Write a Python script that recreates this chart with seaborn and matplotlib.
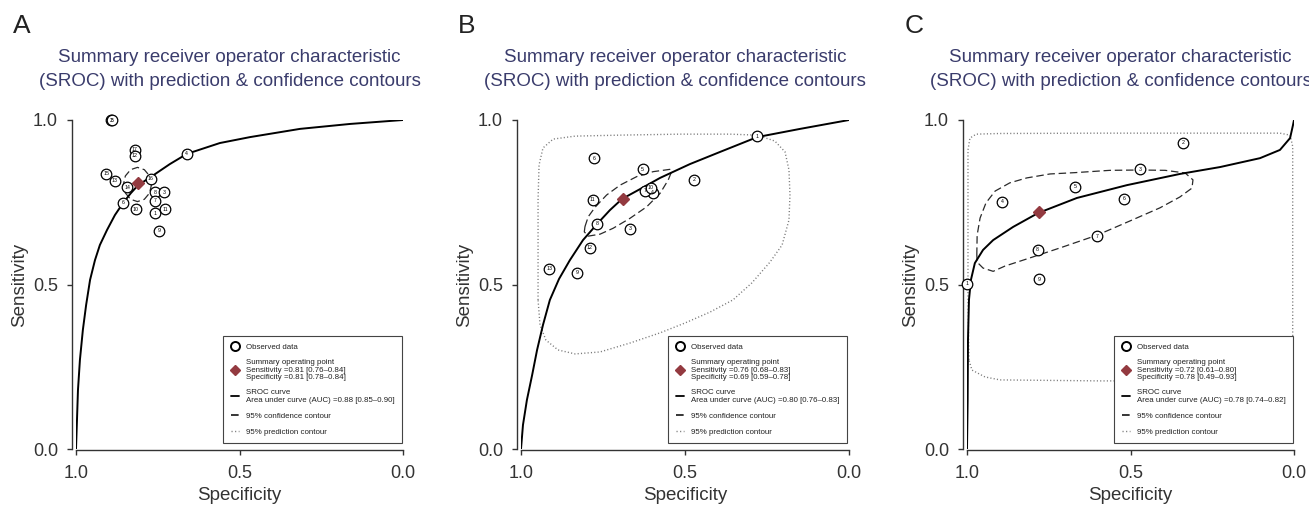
import numpy as np
import pandas as pd
import matplotlib
matplotlib.use("Agg")
import matplotlib.pyplot as plt
import seaborn as sns
from matplotlib.lines import Line2D

sns.set_theme(style="white")
plt.rcParams['font.family'] = ['Liberation Sans', 'DejaVu Sans']

# ---------------- data ----------------
# Panel A
a_ids = [2, 5, 17, 12, 4, 15, 13, 14, 16, 8, 3, 6, 10, 7, 1, 11, 9]
a_spec = [0.893, 0.889, 0.820, 0.820, 0.661, 0.908, 0.881, 0.844, 0.771, 0.758, 0.731, 0.856, 0.817, 0.758, 0.758, 0.728, 0.746]
a_sens = [1.000, 1.000, 0.909, 0.891, 0.897, 0.836, 0.815, 0.796, 0.821, 0.781, 0.781, 0.748, 0.729, 0.754, 0.717, 0.729, 0.663]
a_summary = (0.81, 0.81)
a_curve_spec = [1.000, 0.997, 0.994, 0.988, 0.979, 0.969, 0.957, 0.942, 0.927, 0.905, 0.881, 0.856, 0.832, 0.810, 0.771, 0.713, 0.661, 0.560, 0.468, 0.315, 0.162, 0.000]
a_curve_sens = [0.000, 0.088, 0.179, 0.271, 0.362, 0.438, 0.514, 0.574, 0.620, 0.666, 0.711, 0.748, 0.778, 0.802, 0.827, 0.866, 0.897, 0.930, 0.948, 0.973, 0.988, 1.000]
a_conf_spec = [0.769, 0.775, 0.791, 0.812, 0.833, 0.849, 0.855, 0.849, 0.833, 0.812, 0.791, 0.775, 0.769]
a_conf_sens = [0.804, 0.830, 0.849, 0.856, 0.849, 0.830, 0.804, 0.778, 0.759, 0.752, 0.759, 0.778, 0.804]
a_pred_spec = []
a_pred_sens = []
a_legend = ["Observed data",
            "Summary operating point\nSensitivity =0.81 [0.76\u20130.84]\nSpecificity =0.81 [0.78\u20130.84]",
            "SROC curve\nArea under curve (AUC) =0.88 [0.85\u20130.90]",
            "95% confidence contour",
            "95% prediction contour"]

# Panel B
b_ids = [1, 2, 3, 4, 5, 6, 7, 8, 9, 10, 11, 12, 13]
b_spec = [0.280, 0.473, 0.668, 0.599, 0.629, 0.777, 0.621, 0.769, 0.830, 0.605, 0.781, 0.790, 0.914]
b_sens = [0.951, 0.818, 0.670, 0.779, 0.850, 0.884, 0.785, 0.684, 0.536, 0.794, 0.757, 0.612, 0.548]
b_summary = (0.69, 0.76)
b_curve_spec = [1.000, 0.994, 0.982, 0.966, 0.951, 0.933, 0.912, 0.884, 0.851, 0.811, 0.768, 0.729, 0.692, 0.637, 0.576, 0.485, 0.393, 0.280, 0.149, 0.000]
b_curve_sens = [0.000, 0.073, 0.149, 0.225, 0.301, 0.377, 0.453, 0.517, 0.574, 0.635, 0.684, 0.726, 0.760, 0.790, 0.824, 0.866, 0.903, 0.948, 0.973, 1.000]
b_conf_spec = [0.805, 0.795, 0.774, 0.739, 0.698, 0.647, 0.597, 0.546, 0.541, 0.551, 0.576, 0.617, 0.668, 0.719, 0.759, 0.795, 0.807, 0.805]
b_conf_sens = [0.676, 0.706, 0.735, 0.772, 0.802, 0.828, 0.843, 0.850, 0.843, 0.818, 0.777, 0.736, 0.701, 0.671, 0.653, 0.647, 0.660, 0.676]
b_pred_spec = [0.948, 0.948, 0.948, 0.945, 0.933, 0.902, 0.835, 0.698, 0.515, 0.363, 0.280, 0.226, 0.195, 0.183, 0.180, 0.183, 0.204, 0.241, 0.296, 0.354, 0.424, 0.500, 0.576, 0.668, 0.759, 0.835, 0.887, 0.924, 0.942, 0.948]
b_pred_sens = [0.453, 0.605, 0.757, 0.863, 0.915, 0.942, 0.951, 0.954, 0.957, 0.957, 0.954, 0.936, 0.903, 0.848, 0.772, 0.696, 0.620, 0.568, 0.505, 0.453, 0.416, 0.383, 0.353, 0.322, 0.295, 0.289, 0.301, 0.331, 0.377, 0.453]
b_legend = ["Observed data",
            "Summary operating point\nSensitivity =0.76 [0.68\u20130.83]\nSpecificity =0.69 [0.59\u20130.78]",
            "SROC curve\nArea under curve (AUC) =0.80 [0.76\u20130.83]",
            "95% confidence contour",
            "95% prediction contour"]

# Panel C
c_ids = [1, 2, 3, 4, 5, 6, 7, 8, 9]
c_spec = [1.000, 0.340, 0.471, 0.893, 0.670, 0.520, 0.603, 0.784, 0.779]
c_sens = [0.502, 0.931, 0.850, 0.751, 0.797, 0.761, 0.646, 0.605, 0.516]
c_summary = (0.78, 0.72)
c_curve_spec = [1.000, 0.998, 0.997, 0.994, 0.988, 0.976, 0.951, 0.920, 0.859, 0.783, 0.664, 0.511, 0.349, 0.226, 0.104, 0.043, 0.012, 0.003, 0.000]
c_curve_sens = [0.000, 0.149, 0.331, 0.453, 0.514, 0.565, 0.605, 0.635, 0.675, 0.717, 0.763, 0.802, 0.836, 0.857, 0.884, 0.909, 0.945, 0.985, 1.000]
c_conf_spec = [0.970, 0.969, 0.960, 0.942, 0.914, 0.869, 0.817, 0.746, 0.670, 0.563, 0.471, 0.394, 0.333, 0.309, 0.312, 0.349, 0.410, 0.502, 0.602, 0.716, 0.807, 0.884, 0.920, 0.951, 0.969, 0.970]
c_conf_sens = [0.590, 0.650, 0.702, 0.748, 0.784, 0.809, 0.824, 0.836, 0.840, 0.847, 0.848, 0.847, 0.839, 0.818, 0.793, 0.766, 0.733, 0.693, 0.650, 0.611, 0.581, 0.556, 0.540, 0.550, 0.568, 0.590]
c_pred_spec = [0.994, 0.997, 0.997, 0.997, 0.991, 0.972, 0.899, 0.593, 0.287, 0.043, 0.012, 0.004, 0.004, 0.012, 0.070, 0.287, 0.593, 0.899, 0.945, 0.985, 0.994]
c_pred_sens = [0.271, 0.453, 0.757, 0.909, 0.945, 0.957, 0.959, 0.960, 0.960, 0.960, 0.954, 0.920, 0.300, 0.240, 0.210, 0.207, 0.207, 0.210, 0.219, 0.240, 0.271]
c_legend = ["Observed data",
            "Summary operating point\nSensitivity =0.72 [0.61\u20130.80]\nSpecificity =0.78 [0.49\u20130.93]",
            "SROC curve\nArea under curve (AUC) =0.78 [0.74\u20130.82]",
            "95% confidence contour",
            "95% prediction contour"]

panel_letters = ["A", "B", "C"]
title_lines = ["Summary receiver operator characteristic",
               "(SROC) with prediction & confidence contours"]
tick_vals = [0.0, 0.5, 1.0]
tick_labels = ["0.0", "0.5", "1.0"]

# ---------------- styling ----------------
W, H = 1309, 509
TITLE_C = "#3a3c6c"
AX_C = "#333333"
DIAMOND_C = "#933a40"

fig = plt.figure(figsize=(W / 100, H / 100), dpi=100)

boxes = [(76, 403), (521, 849), (967, 1294)]
letter_x = [12.7, 458, 905]
legend_right = [0.997, 0.994, 0.997]

panels = [
    (a_ids, a_spec, a_sens, a_summary, a_curve_spec, a_curve_sens, a_conf_spec, a_conf_sens, a_pred_spec, a_pred_sens, a_legend),
    (b_ids, b_spec, b_sens, b_summary, b_curve_spec, b_curve_sens, b_conf_spec, b_conf_sens, b_pred_spec, b_pred_sens, b_legend),
    (c_ids, c_spec, c_sens, c_summary, c_curve_spec, c_curve_sens, c_conf_spec, c_conf_sens, c_pred_spec, c_pred_sens, c_legend),
]

for i, (ids, spec, sens, summ, cs, cse, cfs, cfse, ps, pse, leg) in enumerate(panels):
    x0, x1 = boxes[i]
    ax = fig.add_axes([x0 / W, (H - 449) / H, (x1 - x0) / W, 329 / H])
    ax.set_xlim(1.0, 0.0)
    ax.set_ylim(0.0, 1.0)

    if len(ps):
        sns.lineplot(x=ps, y=pse, sort=False, estimator=None, ax=ax, color="#7a7a7a",
                     lw=1.0, linestyle=(0, (0.8, 1.6)))
    sns.lineplot(x=cfs, y=cfse, sort=False, estimator=None, ax=ax, color="#2a2a2a",
                 lw=0.9, linestyle=(0, (6, 3)))
    sns.lineplot(x=cs, y=cse, sort=False, estimator=None, ax=ax, color="black", lw=1.4)

    df = pd.DataFrame({"spec": spec, "sens": sens, "id": ids})
    sns.scatterplot(data=df, x="spec", y="sens", ax=ax, marker="o", s=58,
                    facecolor="white", edgecolor="black", linewidth=0.9, clip_on=False, zorder=4)
    for _, r in df.iterrows():
        ax.text(r["spec"], r["sens"], str(int(r["id"])), ha="center", va="center",
                fontsize=3.8, color="black", zorder=5, clip_on=False)

    ax.plot([summ[0]], [summ[1]], marker="D", ms=6.5, color=DIAMOND_C, ls="", zorder=6)

    for s in ["top", "right"]:
        ax.spines[s].set_visible(False)
    ax.spines["left"].set_position(("outward", 3))
    ax.spines["bottom"].set_position(("outward", 0.7))
    ax.spines["left"].set_bounds(0, 1)
    ax.spines["bottom"].set_bounds(0, 1)
    for s in ["left", "bottom"]:
        ax.spines[s].set_color(AX_C)
        ax.spines[s].set_linewidth(1.0)
    ax.set_xticks(tick_vals)
    ax.set_xticklabels(tick_labels)
    ax.set_yticks(tick_vals)
    ax.set_yticklabels(tick_labels)
    ax.tick_params(axis="both", direction="out", length=3.5, width=1.0, color=AX_C,
                   labelsize=13, labelcolor=AX_C, left=True, bottom=True)
    ax.tick_params(axis="x", pad=7)
    ax.tick_params(axis="y", pad=6.5)
    ax.set_xlabel("Specificity", fontsize=13.5, color=AX_C)
    ax.set_ylabel("Sensitivity", fontsize=13.5, color=AX_C)
    ax.xaxis.set_label_coords(0.5, -0.115)
    ax.yaxis.set_label_coords(-48 / (x1 - x0), 0.5)
    ax.grid(False)

    handles = [
        Line2D([], [], marker="o", ls="", mfc="white", mec="black", ms=6.5, mew=1.4),
        Line2D([], [], marker="D", ls="", color=DIAMOND_C, ms=5.5),
        Line2D([], [], color="black", lw=1.3),
        Line2D([], [], color="black", lw=1.1, linestyle=(0, (5, 1))),
        Line2D([], [], color="#777777", lw=1.0, linestyle=(0, (0.8, 1.8))),
    ]
    lg = ax.legend(handles, leg, loc="lower right", bbox_to_anchor=(legend_right[i], 0.018),
                   borderaxespad=0, fontsize=5.7, frameon=True, fancybox=False,
                   edgecolor="#444444", framealpha=1, handlelength=1.0, handletextpad=0.9,
                   labelspacing=1.05, borderpad=0.95)
    lg.get_frame().set_linewidth(0.8)
    for t in lg.get_texts():
        t.set_linespacing(1.1)
        t.set_color("#222222")
    lg.set_zorder(10)

    cx = (x0 + x1) / 2 - 10
    fig.text(cx / W, 1 - 57 / H, title_lines[0], ha="center", va="center", fontsize=13.5, color=TITLE_C)
    fig.text(cx / W, 1 - 82 / H, title_lines[1], ha="center", va="center", fontsize=13.5, color=TITLE_C)
    fig.text(letter_x[i] / W, 1 - 33 / H, panel_letters[i], ha="left", va="baseline",
             fontsize=19, color="#222222")

fig.savefig("out.png", dpi=100)
